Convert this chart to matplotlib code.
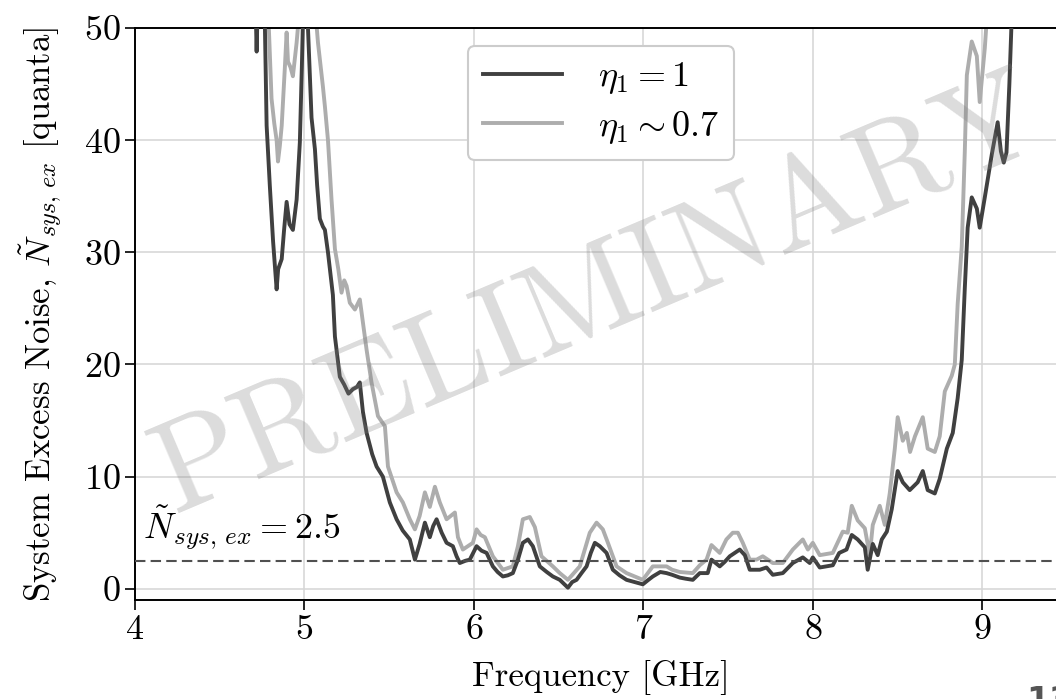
import numpy as np
import matplotlib
matplotlib.use("Agg")
import matplotlib.pyplot as plt

plt.rcParams['font.family'] = 'serif'
plt.rcParams['font.serif'] = ['cmr10']
plt.rcParams['mathtext.fontset'] = 'cm'
plt.rcParams['axes.unicode_minus'] = False
plt.rcParams['axes.formatter.use_mathtext'] = True

# eta_1 = 1 (dark curve)
freq_dark = [4.700, 4.712, 4.718, 4.724, 4.735, 4.760, 4.767, 4.777, 4.796, 4.815,
             4.836, 4.845, 4.866, 4.880, 4.895, 4.912, 4.932, 4.954, 4.973, 4.985,
             4.995, 5.005, 5.015, 5.021, 5.042, 5.062, 5.075, 5.091, 5.109, 5.121,
             5.139, 5.168, 5.180, 5.209, 5.235, 5.260, 5.286, 5.310, 5.327, 5.345,
             5.367, 5.400, 5.426, 5.463, 5.504, 5.544, 5.580, 5.622, 5.652, 5.680,
             5.711, 5.740, 5.760, 5.780, 5.810, 5.839, 5.876, 5.898, 5.917, 5.950,
             5.976, 6.016, 6.045, 6.075, 6.112, 6.140, 6.171, 6.200, 6.230, 6.260,
             6.289, 6.319, 6.348, 6.389, 6.430, 6.466, 6.507, 6.555, 6.580, 6.606,
             6.635, 6.665, 6.690, 6.714, 6.743, 6.783, 6.820, 6.860, 6.901, 6.950,
             6.997, 7.030, 7.056, 7.100, 7.137, 7.170, 7.215, 7.250, 7.292, 7.333,
             7.380, 7.402, 7.451, 7.480, 7.510, 7.569, 7.599, 7.628, 7.687, 7.727,
             7.764, 7.823, 7.882, 7.941, 7.982, 8.000, 8.041, 8.118, 8.156, 8.199,
             8.230, 8.265, 8.307, 8.324, 8.354, 8.383, 8.407, 8.437, 8.466, 8.501,
             8.531, 8.572, 8.619, 8.649, 8.678, 8.720, 8.749, 8.791, 8.826, 8.855,
             8.879, 8.897, 8.914, 8.938, 8.968, 8.985, 9.015, 9.056, 9.091, 9.110,
             9.127, 9.143, 9.160, 9.172, 9.190]
noise_dark = [58, 52, 47.9, 52, 58, 58, 50, 41.3, 35.9, 31.0,
              26.7, 28.5, 29.4, 32.0, 34.5, 32.5, 32.0, 34.7, 39.8, 46.6,
              53, 58, 53, 50, 42.0, 39.2, 36.0, 33.0, 32.3, 32.0,
              30.0, 26.2, 22.5, 18.9, 18.2, 17.4, 17.8, 18.0, 18.4, 15.8,
              13.9, 12.0, 10.9, 10.0, 7.7, 6.2, 5.2, 4.4, 2.6, 4.0,
              5.9, 4.6, 5.6, 6.2, 5.0, 4.1, 3.8, 2.9, 2.3, 2.5,
              2.6, 3.8, 3.4, 3.2, 2.0, 1.5, 1.1, 1.2, 1.4, 2.6,
              4.1, 4.4, 3.8, 2.0, 1.5, 1.1, 0.8, 0.1, 0.6, 0.8,
              1.4, 2.0, 3.2, 4.1, 3.8, 3.2, 1.7, 1.2, 0.8, 0.6,
              0.4, 0.8, 1.1, 1.5, 1.4, 1.25, 1.0, 0.9, 0.8, 1.4,
              1.4, 2.6, 2.0, 2.4, 2.9, 3.5, 3.0, 1.7, 1.7, 1.9,
              1.25, 1.4, 2.3, 2.8, 2.3, 2.8, 1.9, 2.1, 3.2, 3.5,
              4.8, 4.4, 3.7, 1.7, 4.0, 3.0, 4.4, 5.1, 7.1, 10.5,
              9.5, 8.8, 9.5, 10.5, 8.8, 8.5, 9.8, 12.5, 13.9, 17.0,
              20.4, 26.8, 32.2, 34.9, 33.9, 32.2, 34.9, 38.7, 41.6, 39.0,
              38.0, 38.9, 45.0, 50.0, 58]

# eta_1 ~ 0.7 (light curve)
freq_light = [4.775, 4.785, 4.806, 4.822, 4.836, 4.844, 4.855, 4.866, 4.885, 4.895,
              4.903, 4.918, 4.932, 4.954, 4.973, 4.990, 5.050, 5.062, 5.080, 5.109,
              5.121, 5.139, 5.160, 5.180, 5.200, 5.219, 5.235, 5.249, 5.268, 5.298,
              5.327, 5.345, 5.367, 5.396, 5.434, 5.475, 5.493, 5.544, 5.581, 5.622,
              5.652, 5.680, 5.711, 5.740, 5.770, 5.799, 5.839, 5.888, 5.906, 5.935,
              5.994, 6.016, 6.040, 6.065, 6.112, 6.171, 6.230, 6.260, 6.289, 6.330,
              6.360, 6.399, 6.466, 6.507, 6.555, 6.625, 6.684, 6.724, 6.761, 6.791,
              6.842, 6.901, 6.997, 7.056, 7.100, 7.137, 7.170, 7.215, 7.292, 7.333,
              7.373, 7.402, 7.451, 7.490, 7.528, 7.558, 7.587, 7.628, 7.668, 7.705,
              7.764, 7.823, 7.882, 7.941, 7.971, 8.000, 8.041, 8.118, 8.177, 8.206,
              8.230, 8.265, 8.307, 8.336, 8.354, 8.395, 8.425, 8.454, 8.484, 8.501,
              8.531, 8.555, 8.574, 8.603, 8.649, 8.678, 8.720, 8.749, 8.779, 8.820,
              8.838, 8.855, 8.879, 8.897, 8.909, 8.938, 8.968, 8.985, 9.015, 9.032,
              9.050]
noise_light = [58, 52, 43.7, 41.5, 40.0, 38.1, 39.5, 41.3, 46.6, 49.6,
               47.0, 46.5, 45.7, 48.7, 52, 58, 58, 52, 48.7, 44.8,
               43.0, 40.0, 34.7, 30.3, 28.5, 26.4, 27.5, 27.0, 25.5, 24.9,
               25.8, 23.8, 21.3, 18.4, 15.4, 14.5, 10.9, 8.6, 7.7, 6.2,
               5.3, 6.5, 8.6, 7.3, 9.1, 7.7, 6.2, 6.8, 4.6, 3.5,
               4.1, 5.3, 4.8, 4.6, 2.9, 1.7, 2.0, 3.8, 6.2, 6.4,
               5.5, 2.9, 2.0, 1.4, 0.8, 2.0, 5.0, 5.9, 5.3, 4.1,
               2.0, 1.4, 0.8, 2.0, 2.0, 2.0, 1.7, 1.5, 1.4, 2.1,
               2.6, 3.9, 3.2, 4.4, 5.0, 5.0, 4.1, 2.6, 2.6, 2.9,
               2.3, 2.3, 3.5, 4.4, 3.5, 4.1, 3.0, 3.2, 5.1, 5.0,
               7.4, 6.1, 5.4, 3.0, 5.7, 7.4, 5.7, 8.5, 12.5, 15.3,
               13.2, 13.9, 12.2, 13.6, 15.3, 12.5, 12.2, 13.6, 17.6, 19.0,
               20.0, 25.4, 30.5, 39.0, 45.8, 48.8, 47.5, 43.4, 48.2, 52,
               58]

threshold = 2.5
x_ticks = [4, 5, 6, 7, 8, 9]
y_ticks = [0, 10, 20, 30, 40, 50]

fig = plt.figure(figsize=(10.56, 6.99), dpi=100)
ax = fig.add_axes([0.1278, 0.1416, 0.8826, 0.8183])

ax.plot(freq_light, noise_light, color='#adadad', lw=2.8, zorder=2, label=r'$\eta_1 \sim 0.7$')
ax.plot(freq_dark, noise_dark, color='#404040', lw=2.8, zorder=3, label=r'$\eta_1 = 1$')
ax.axhline(threshold, color='#505050', lw=1.5, ls=(0, (5, 2.5)), zorder=4)
ax.text(4.05, 3.3, r'$\tilde{N}_{sys,\,ex} = 2.5$', fontsize=26, va='bottom', ha='left')

ax.set_xlim(4, 9.5)
ax.set_ylim(-1, 50)
ax.set_xticks(x_ticks)
ax.set_yticks(y_ticks)
ax.grid(True, color='#d5d5d5', lw=1.1)
ax.set_axisbelow(True)
for s in ax.spines.values():
    s.set_linewidth(1.4)
    s.set_color('black')
ax.tick_params(labelsize=26, length=7, width=1.2, direction='out')

ax.set_xlabel('Frequency [GHz]', fontsize=25, labelpad=10)
ax.set_ylabel(r'System Excess Noise, $\tilde{N}_{sys,\,ex}$ [quanta]', fontsize=25, labelpad=14)

h, l = ax.get_legend_handles_labels()
leg = ax.legend([h[1], h[0]], [l[1], l[0]], loc='upper center', fontsize=26,
                frameon=True, fancybox=True, edgecolor='#cccccc', framealpha=1,
                handlelength=2.2, labelspacing=0.35, borderpad=0.4, handletextpad=1.0,
                bbox_to_anchor=(0.5, 1.0))
leg.get_frame().set_linewidth(1.5)
leg.set_zorder(5)

# watermark
fig.text(0.567, 0.575, 'PRELIMINARY', fontsize=93, color='gray', alpha=0.28,
         rotation=23, ha='center', va='center', zorder=10)

# page number, cut by the crop
fig.text(0.972, 0.02, '13', fontsize=24, color='#555555', fontweight='bold',
         family='DejaVu Sans', ha='left', va='top')

fig.savefig('out.png', dpi=100)
